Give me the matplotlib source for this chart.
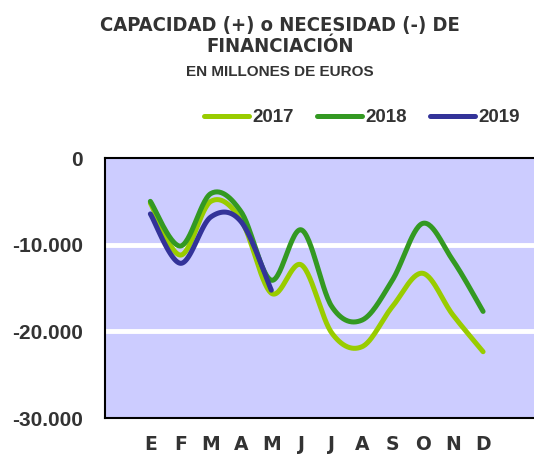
import numpy as np
import matplotlib.pyplot as plt

meses = ['E', 'F', 'M', 'A', 'M', 'J', 'J', 'A', 'S', 'O', 'N', 'D']
v2017 = [-5200, -11200, -5000, -7150, -15600, -12350, -20200, -21770, -17150, -13300, -18100, -22350]
v2018 = [-5000, -10150, -4100, -6200, -14100, -8300, -17150, -18700, -14100, -7550, -11800, -17700]
v2019 = [-6450, -12150, -6800, -7350, -15250]
series = [('2017', v2017, '#99cc00'), ('2018', v2018, '#339922'), ('2019', v2019, '#333399')]

txt = '#333333'


def smooth(y, n=30):
    # Excel-like smoothed line (Catmull-Rom through the points)
    y = np.asarray(y, float)
    x = np.arange(len(y), dtype=float)
    px = np.concatenate([[x[0]], x, [x[-1]]])
    py = np.concatenate([[y[0]], y, [y[-1]]])
    xs, ys = [], []
    t = np.linspace(0, 1, n)
    for i in range(1, len(px) - 2):
        b0x, b0y = px[i], py[i]
        b3x, b3y = px[i + 1], py[i + 1]
        b1x, b1y = b0x + (px[i + 1] - px[i - 1]) / 6, b0y + (py[i + 1] - py[i - 1]) / 6
        b2x, b2y = b3x - (px[i + 2] - px[i]) / 6, b3y - (py[i + 2] - py[i]) / 6
        a, b, c, d = (1 - t) ** 3, 3 * (1 - t) ** 2 * t, 3 * (1 - t) * t ** 2, t ** 3
        xs.append(a * b0x + b * b1x + c * b2x + d * b3x)
        ys.append(a * b0y + b * b1y + c * b2y + d * b3y)
    return np.concatenate(xs), np.concatenate(ys)


fig = plt.figure(figsize=(5.34, 4.55), dpi=100)
ax = fig.add_axes([0.1966, 0.0813, 0.81, 0.5714])
ax.set_facecolor('#ccccff')

for lab, vals, col in series:
    sx, sy = smooth(vals)
    ax.plot(sx, sy, color=col, lw=3.6, solid_capstyle='round', label=lab)

ax.set_ylim(-30000, 0)
ax.set_xlim(-1.5, 12.8)
ax.set_yticks([0, -10000, -20000, -30000])
ax.set_yticklabels(['0', '-10.000', '-20.000', '-30.000'])
ax.set_xticks(range(len(meses)))
ax.set_xticklabels(meses)
for y in [-10000, -20000]:
    ax.axhline(y, color='white', lw=3.5, zorder=1)
ax.tick_params(length=0)
ax.tick_params(axis='y', pad=16)
ax.tick_params(axis='x', pad=12)
for l in ax.get_yticklabels():
    l.set_fontfamily('Liberation Sans')
    l.set_fontweight('bold')
    l.set_fontsize(15)
    l.set_color(txt)
for l in ax.get_xticklabels():
    l.set_fontfamily('DejaVu Sans')
    l.set_fontweight('heavy')
    l.set_fontsize(13.5)
    l.set_color(txt)
for s in ['left', 'top', 'bottom']:
    ax.spines[s].set_linewidth(1.5)
    ax.spines[s].set_color('black')
ax.spines['right'].set_visible(False)

fig.text(0.524, 0.945, 'CAPACIDAD (+) o NECESIDAD (-) DE', ha='center', va='center',
         fontsize=14.5, fontweight='bold', fontstretch='condensed', family='DejaVu Sans', color=txt)
fig.text(0.524, 0.897, 'FINANCIACIÓN', ha='center', va='center',
         fontsize=14.5, fontweight='bold', fontstretch='condensed', family='DejaVu Sans', color=txt)
fig.text(0.524, 0.842, 'EN MILLONES DE EUROS', ha='center', va='center',
         fontsize=11, fontweight='bold', family='Liberation Sans', color=txt)

leg = fig.legend(loc='center', bbox_to_anchor=(0.678, 0.741), ncol=3, frameon=False,
                 handlelength=2.4, handletextpad=0.2, columnspacing=1.2,
                 prop={'family': 'Liberation Sans', 'weight': 'bold', 'size': 13.5})
for t in leg.get_texts():
    t.set_color(txt)

fig.savefig('out.png', dpi=100)
